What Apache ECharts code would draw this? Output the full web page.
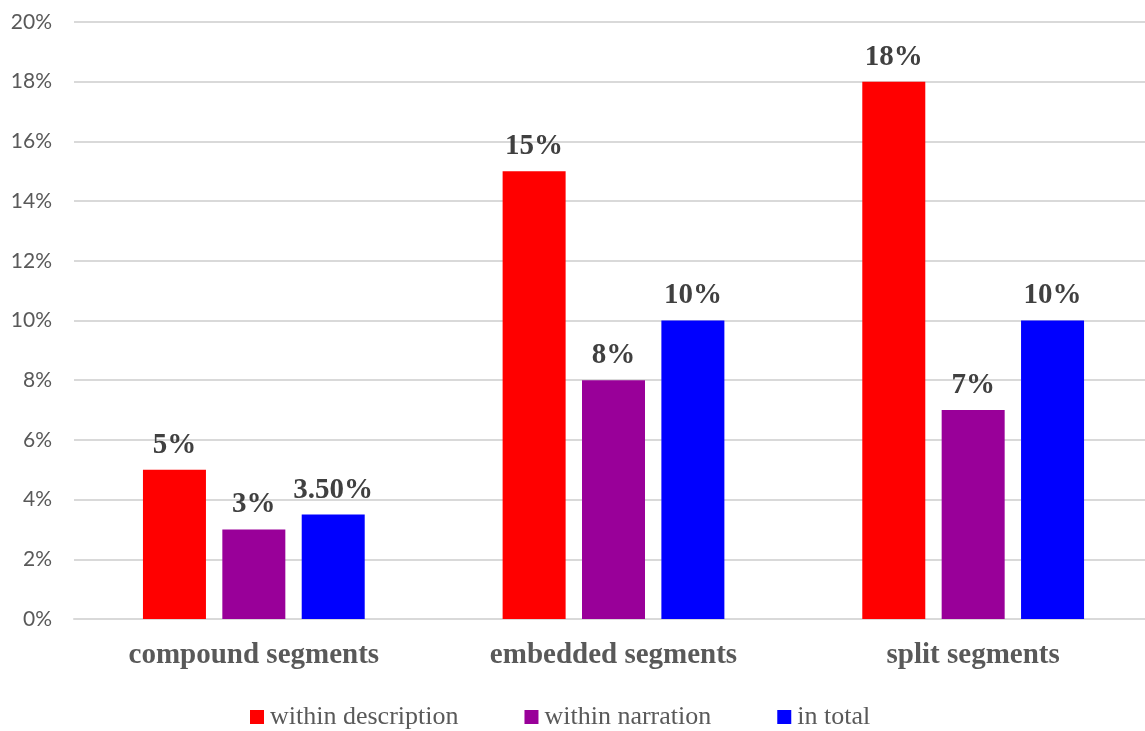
<!DOCTYPE html>
<html>
<head>
<meta charset="utf-8">
<script src="https://cdn.jsdelivr.net/npm/echarts@6/dist/echarts.min.js"></script>
<style>
  html, body { margin: 0; padding: 0; background: #fff; overflow: hidden; }
  /* the plot runs slightly past the right edge of the window */
  #chart { width: 1153px; height: 731px; }
</style>
</head>
<body>
<div id="chart"></div>
<script>
// Segment types along the x axis
const categories = ['compound segments', 'embedded segments', 'split segments'];

// Shares (in %) for each group
const withinDescription = [5, 15, 18];
const withinNarration = [3, 8, 7];
const inTotal = [3.5, 10, 10];

const seriesNames = ['within description', 'within narration', 'in total'];
const seriesColors = ['#ff0000', '#990099', '#0000ff'];

// Y-axis range and step (percent)
const yMin = 0;
const yMax = 20;
const yStep = 2;

function pctLabel(v) {
  return Number.isInteger(v) ? v + '%' : v.toFixed(2) + '%';
}

const chart = echarts.init(document.getElementById('chart'));

function barSeries(name, data, color) {
  return {
    name: name,
    type: 'bar',
    data: data,
    barWidth: 63,
    barGap: '26%',
    itemStyle: { color: color },
    label: {
      show: true,
      position: 'top',
      distance: 10,
      formatter: p => pctLabel(p.value),
      fontFamily: 'Liberation Serif',
      fontWeight: 'bold',
      fontSize: 29,
      color: '#404040'
    }
  };
}

chart.setOption({
  animation: false,
  backgroundColor: '#ffffff',
  grid: { left: 74, right: 0, top: 22, height: 597, containLabel: false },
  legend: {
    top: 699,
    left: 245,
    itemWidth: 14,
    itemHeight: 14,
    itemGap: 66,
    icon: 'rect',
    textStyle: {
      fontFamily: 'Liberation Serif',
      fontSize: 26,
      color: '#595959',
      padding: [0, 0, 0, 1]
    },
    data: seriesNames
  },
  xAxis: {
    type: 'category',
    data: categories,
    axisLine: { show: true, lineStyle: { color: '#d9d9d9', width: 2 } },
    axisTick: { show: false },
    axisLabel: {
      margin: 22,
      fontFamily: 'Liberation Serif',
      fontWeight: 'bold',
      fontSize: 29,
      color: '#595959'
    }
  },
  yAxis: {
    type: 'value',
    min: yMin,
    max: yMax,
    interval: yStep,
    axisLine: { show: false },
    axisTick: { show: false },
    splitLine: { lineStyle: { color: '#d9d9d9', width: 2 } },
    axisLabel: {
      margin: 22,
      formatter: '{value}%',
      fontFamily: 'Lato',
      fontSize: 21,
      color: '#595959'
    }
  },
  series: [
    barSeries(seriesNames[0], withinDescription, seriesColors[0]),
    barSeries(seriesNames[1], withinNarration, seriesColors[1]),
    barSeries(seriesNames[2], inTotal, seriesColors[2])
  ]
});
</script>
</body>
</html>
